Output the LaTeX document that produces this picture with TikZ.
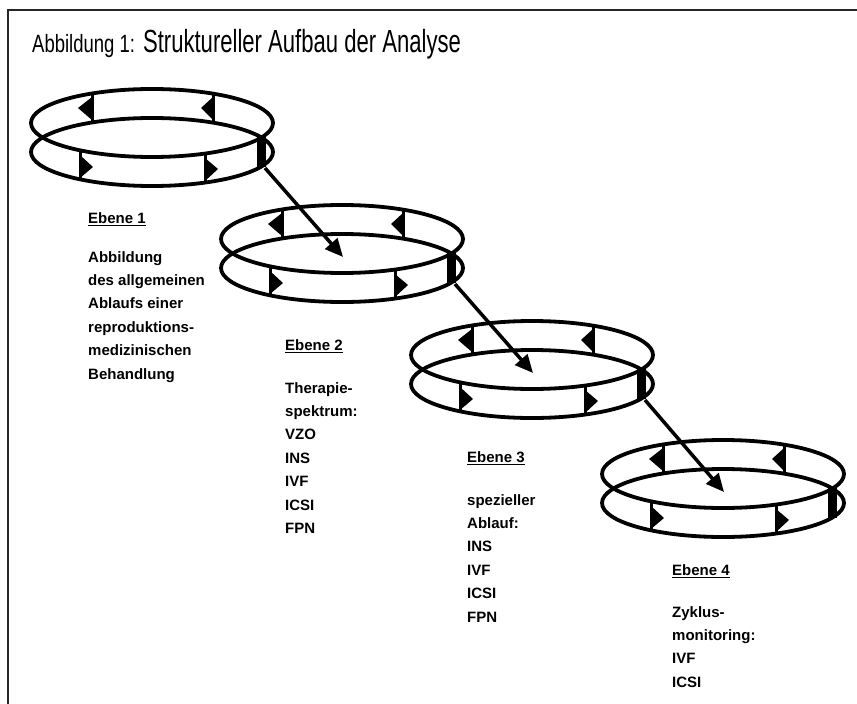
\documentclass[tikz,border=0pt]{standalone}
\usepackage{fontspec}
\usepackage{tikz}
\usetikzlibrary{shapes.geometric,arrows.meta}
\setsansfont{Liberation Sans}
\newfontfamily\titelklein[FakeStretch=0.74]{Liberation Sans}
\newfontfamily\titelgross[FakeStretch=0.69]{Liberation Sans}

\tikzset{
  ringellipse/.style={ellipse, draw, line width=3.8pt, minimum width=242pt, minimum height=68pt, inner sep=0pt},
  ringbar/.style={line width=3pt},
  ebenetext/.style={anchor=north west, align=left, inner sep=0pt, font=\sffamily\bfseries\fontsize{15}{23.4}\selectfont},
  pfeil/.style={line width=3.5pt, -{Triangle[length=18pt,width=16pt]}},
  rahmen/.style={line width=1.5pt, black!85}
}

\newcommand{\ebenetitel}[1]{\setbox0\hbox{#1}\rlap{\rule[-3.3pt]{\wd0}{1.3pt}}\box0}

% ring: name, centre of the upper ellipse
\newcommand{\ebenering}[3]{%
  \node[ringellipse] (#1o) at (#2,#3) {};
  \node[ringellipse] (#1u) at (#2,#3+29) {};
  % back side, to the left
  \draw[ringbar] (#2-60,#3-29.5) -- (#2-60,#3-0.5);
  \fill (#2-60,#3-26) -- (#2-74,#3-15) -- (#2-60,#3-3) -- cycle;
  \draw[ringbar] (#2+61,#3-29.4) -- (#2+61,#3-0.4);
  \fill (#2+61,#3-26) -- (#2+49,#3-15) -- (#2+61,#3-3) -- cycle;
  % front side, to the right
  \draw[ringbar] (#2-72,#3+27.3) -- (#2-72,#3+56.3);
  \fill (#2-72,#3+32) -- (#2-59,#3+44) -- (#2-72,#3+55) -- cycle;
  \draw[ringbar] (#2+53,#3+30.6) -- (#2+53,#3+59.6);
  \fill (#2+53,#3+35) -- (#2+66,#3+46) -- (#2+53,#3+58) -- cycle;
  \fill (#2+105,#3+14) rectangle (#2+114,#3+44);
  \coordinate (#1in) at (#2+1,#3+18);
  \coordinate (#1out) at (#2+113,#3+45);
}

\begin{document}
\begin{tikzpicture}[x=1pt,y=-1pt]
  \useasboundingbox (0,0) rectangle (857,704);
  \fill[white] (0,0) rectangle (857,704);
  \draw[rahmen] (857,10) -- (8,10) -- (8,704);

  \node[anchor=base west, inner sep=0pt] (titel) at (32,52)
    {{\titelklein\fontsize{25}{30}\selectfont Abbildung 1:}\hspace{8pt}{\titelgross\fontsize{32}{38}\selectfont Struktureller Aufbau der Analyse}};

  \ebenering{r1}{152}{123}
  \ebenering{r2}{342}{239}
  \ebenering{r3}{532}{355}
  \ebenering{r4}{723}{474}

  \draw[pfeil] (r1out) -- (r2in);
  \draw[pfeil] (r2out) -- (r3in);
  \draw[pfeil] (r3out) -- (r4in);

  \node[ebenetext] (e1) at (88,212) {\ebenetitel{Ebene 1}\\[15.6pt]
    Abbildung\\des allgemeinen\\Ablaufs einer\\reproduktions-\\medizinischen\\Behandlung};
  \node[ebenetext] (e2) at (285,339) {\ebenetitel{Ebene 2}\\[19.6pt]
    Therapie-\\spektrum:\\VZO\\INS\\IVF\\ICSI\\FPN};
  \node[ebenetext] (e3) at (467,451) {\ebenetitel{Ebene 3}\\[19.6pt]
    spezieller\\Ablauf:\\INS\\IVF\\ICSI\\FPN};
  \node[ebenetext] (e4) at (672,564) {\ebenetitel{Ebene 4}\\[18.6pt]
    Zyklus-\\monitoring:\\IVF\\ICSI};
\end{tikzpicture}
\end{document}
